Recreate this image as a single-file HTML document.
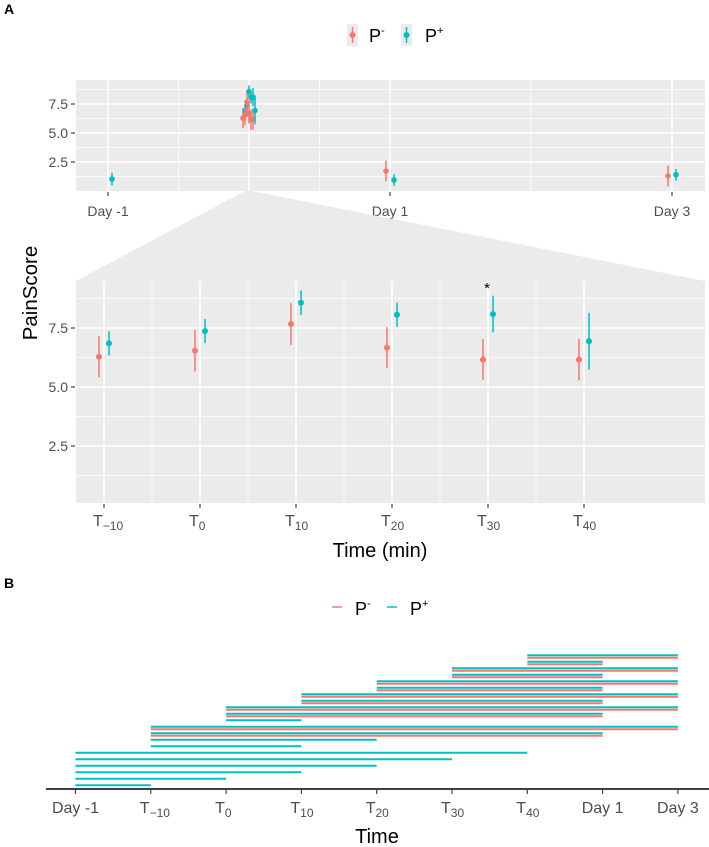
<!DOCTYPE html>
<html><head><meta charset="utf-8"><style>
html,body{margin:0;padding:0;background:#fff;}
svg{display:block;font-family:"Liberation Sans",sans-serif;}
</style></head><body>
<svg id="c" width="709" height="847" viewBox="0 0 709 847" xmlns="http://www.w3.org/2000/svg">
<text x="4" y="14" font-size="14" font-weight="bold">A</text>
<g>
<rect x="347" y="24" width="11" height="22" fill="#ebebeb"/><line x1="352.5" y1="27" x2="352.5" y2="43" stroke="#f8766d" stroke-width="1.5"/><circle cx="352.5" cy="35" r="3" fill="#f8766d"/>
<text x="369" y="42" font-size="18">P<tspan font-size="11" dy="-8">-</tspan></text>
<rect x="401" y="24" width="11" height="22" fill="#ebebeb"/><line x1="406.5" y1="27" x2="406.5" y2="43" stroke="#00bfc4" stroke-width="1.5"/><circle cx="406.5" cy="35" r="3" fill="#00bfc4"/>
<text x="425" y="42" font-size="18">P<tspan font-size="11" dy="-8">+</tspan></text>
</g>
<text transform="translate(37,293) rotate(-90)" text-anchor="middle" font-size="20.5" fill="#000">PainScore</text>
<g id="topg"></g>
<polygon points="245,191 252,191 705,281 76,281" fill="#ebebeb"/>
<g id="low"></g>
<text x="380" y="557" text-anchor="middle" font-size="20">Time (min)</text>
<text x="4" y="588" font-size="14" font-weight="bold">B</text>
<g>
<line x1="332" y1="607" x2="342" y2="607" stroke="#f8766d" stroke-width="1.5"/>
<text x="355" y="615" font-size="18">P<tspan font-size="11" dy="-8">-</tspan></text>
<line x1="387" y1="607" x2="397" y2="607" stroke="#00bfc4" stroke-width="1.5"/>
<text x="410" y="615" font-size="18">P<tspan font-size="11" dy="-8">+</tspan></text>
</g>
<g id="gantt"></g>
<text x="377" y="843" text-anchor="middle" font-size="20">Time</text>
</svg>
<script>
// Panel A data
const dayLabels = ["Day -1", "Day 1", "Day 3"];
const dayValues = [-1, 1, 3];
const dayRedMean = [1.0, 1.72, 1.3];
const dayRedErr = [0.5, 0.9, 0.9];
const dayCyanMean = [1.03, 0.95, 1.4];
const dayCyanErr = [0.55, 0.5, 0.5];
const timeCats = ["-10", "0", "10", "20", "30", "40"];
const redMean = [6.28, 6.54, 7.67, 6.67, 6.16, 6.16];
const redErr = [0.87, 0.88, 0.88, 0.87, 0.87, 0.88];
const cyanMean = [6.85, 7.37, 8.57, 8.06, 8.09, 6.94];
const cyanErr = [0.51, 0.51, 0.52, 0.51, 0.78, 1.2];
const yTicks = [2.5, 5.0, 7.5];
// Panel B data
const ganttCats = ["Day -1", "T-10", "T0", "T10", "T20", "T30", "T40", "Day 1", "Day 3"];
const ganttStart = [6,6,5,5,4,4,3,3,2,2,2,1,1,1,1,0,0,0,0,0,0];
const ganttEnd   = [8,7,8,7,8,7,8,7,8,7,3,8,7,4,3,6,5,4,3,2,1];
const ganttRed   = [1,1,1,1,1,1,1,1,1,1,0,1,1,0,0,0,0,0,0,0,0];

const NS="http://www.w3.org/2000/svg";
function mk(p,tag,at){const e=document.createElementNS(NS,tag);for(const k in at)e.setAttribute(k,at[k]);p.appendChild(e);return e;}
const RED="#f8766d", CY="#00bfc4", G="#4d4d4d";

// ---- top panel ----
const topG=document.getElementById('topg');
const tx=d=>249+d*141, ty=v=>133-(v-5)*11.6;
const tpan=mk(topG,'rect',{x:76,y:80,width:629,height:111,fill:'#ebebeb'});


[1.25,3.75,6.25,8.75].forEach(v=>mk(topG,'line',{x1:76,x2:705,y1:ty(v),y2:ty(v),stroke:'#fff','stroke-width':0.7}));
[-0.5,0.5,2].forEach(d=>mk(topG,'line',{x1:tx(d),x2:tx(d),y1:80,y2:191,stroke:'#fff','stroke-width':0.7}));
yTicks.forEach(v=>{mk(topG,'line',{x1:76,x2:705,y1:ty(v),y2:ty(v),stroke:'#fff','stroke-width':1.5});
 mk(topG,'line',{x1:71,x2:75,y1:ty(v),y2:ty(v),stroke:'#333','stroke-width':1.1});
 const t=mk(topG,'text',{x:68,y:ty(v)+5,'text-anchor':'end','font-size':14,fill:G});t.textContent=v.toFixed(1);
 
 });
mk(topG,'line',{x1:tx(0),x2:tx(0),y1:80,y2:191,stroke:'#fff','stroke-width':1.5});
dayValues.forEach((d,i)=>{mk(topG,'line',{x1:tx(d),x2:tx(d),y1:80,y2:191,stroke:'#fff','stroke-width':1.5});
 mk(topG,'line',{x1:tx(d),x2:tx(d),y1:192,y2:196,stroke:'#333','stroke-width':1.1});
 const t=mk(topG,'text',{x:tx(d),y:216,'text-anchor':'middle','font-size':14,fill:G});t.textContent=dayLabels[i];
 
 });
function pt(g,x,m,e,col,sy,r){mk(g,'line',{x1:x,x2:x,y1:sy(m+e),y2:sy(m-e),stroke:col,'stroke-width':1.5});
 const c=mk(g,'circle',{cx:x,cy:sy(m),r:r,fill:col});
 
 }
dayValues.forEach((d,i)=>{ if(i>0) pt(topG,tx(d)-4,dayRedMean[i],dayRedErr[i],RED,ty,2.8);
 pt(topG,tx(d)+4,dayCyanMean[i],dayCyanErr[i],CY,ty,2.8);});
timeCats.forEach((c,i)=>{const x=244+i*2;
 pt(topG,x-1,redMean[i],redErr[i],RED,ty,2.8);pt(topG,x+1,cyanMean[i],cyanErr[i],CY,ty,2.8);});

// ---- lower panel ----
const low=document.getElementById('low');
const lx=i=>104+i*96, ly=v=>387-(v-5)*23.6;
const lp=mk(low,'rect',{x:76,y:281,width:629,height:222,fill:'#ebebeb'});


[1.25,3.75,6.25,8.75].forEach(v=>mk(low,'line',{x1:76,x2:705,y1:ly(v),y2:ly(v),stroke:'#fff','stroke-width':0.7}));
[0.5,1.5,2.5,3.5,4.5].forEach(h=>mk(low,'line',{x1:lx(h),x2:lx(h),y1:281,y2:503,stroke:'#fff','stroke-width':0.7}));
yTicks.forEach(v=>{mk(low,'line',{x1:76,x2:705,y1:ly(v),y2:ly(v),stroke:'#fff','stroke-width':1.5});
 mk(low,'line',{x1:71,x2:75,y1:ly(v),y2:ly(v),stroke:'#333','stroke-width':1.1});
 const t=mk(low,'text',{x:68,y:ly(v)+5,'text-anchor':'end','font-size':14,fill:G});t.textContent=v.toFixed(1);
 
 });
timeCats.forEach((c,i)=>{mk(low,'line',{x1:lx(i),x2:lx(i),y1:281,y2:503,stroke:'#fff','stroke-width':1.5});
 mk(low,'line',{x1:lx(i),x2:lx(i),y1:504,y2:508,stroke:'#333','stroke-width':1.1});
 const t=mk(low,'text',{x:lx(i)-11,y:526,'font-size':16,fill:G});t.textContent='T';
 const s=mk(t,'tspan',{'font-size':12,dy:4});s.textContent=c.replace('-','\u2212');
 
 
 pt(low,lx(i)-5,redMean[i],redErr[i],RED,ly,3);pt(low,lx(i)+5,cyanMean[i],cyanErr[i],CY,ly,3);});
const st=mk(low,'text',{x:lx(4)-1,y:293,'text-anchor':'middle','font-size':15,fill:'#000'});st.textContent='*';



// ---- panel B ----
const gn=document.getElementById('gantt');
const gx=i=>75.5+i*75.3, gy=r=>656+r*6.5;
ganttStart.forEach((s,r)=>{
 const c=mk(gn,'line',{x1:gx(s),x2:gx(ganttEnd[r]),y1:gy(r)-0.7,y2:gy(r)-0.7,stroke:CY,'stroke-width':2});
 
 
 if(ganttRed[r]){const l=mk(gn,'line',{x1:gx(s),x2:gx(ganttEnd[r]),y1:gy(r)+1.8,y2:gy(r)+1.8,stroke:RED,'stroke-width':2});
 
 }
});
const ax=mk(gn,'line',{x1:46,x2:709,y1:789,y2:789,stroke:'#000','stroke-width':1.6});


ganttCats.forEach((c,i)=>{mk(gn,'line',{x1:gx(i),x2:gx(i),y1:789,y2:794,stroke:'#333','stroke-width':1.1});
 let t;
 if(c[0]==='T'){t=mk(gn,'text',{x:gx(i)-11,y:813,'font-size':16,fill:G});t.textContent='T';
  const s=mk(t,'tspan',{'font-size':12,dy:4});s.textContent=c.slice(1).replace('-','\u2212');}
 else{t=mk(gn,'text',{x:gx(i),y:813,'text-anchor':'middle','font-size':16,fill:G});t.textContent=c;}
 
 });
</script>
</body></html>
